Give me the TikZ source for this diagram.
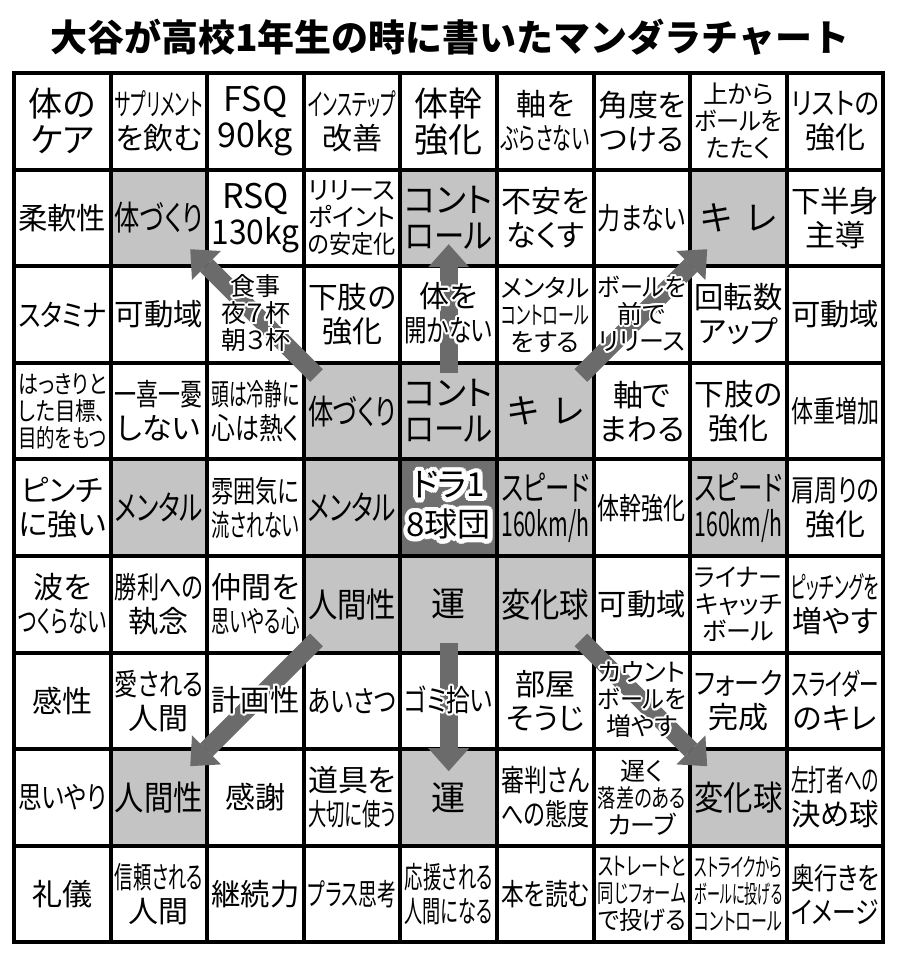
\documentclass[tikz,border=0pt]{standalone}
\usepackage{fontspec}
\setmainfont{Noto Sans CJK JP}
\newfontfamily\cellfont{Noto Sans CJK JP}[RawFeature=+palt]
\usepackage{graphicx}
\usepackage{contour}
\usetikzlibrary{arrows.meta,positioning}
\pgfdeclarelayer{cells}
\pgfdeclarelayer{arrows}
\pgfsetlayers{cells,arrows,main}
\definecolor{hlgray}{HTML}{C4C4C4}
\definecolor{ctrgray}{HTML}{6F6F6F}
\definecolor{arrowgray}{HTML}{6B6B6B}
\contournumber{16}
\contourlength{2pt}
\newsavebox\linebox
\newcommand\fitw[1]{\sbox\linebox{#1}\ifdim\wd\linebox>88pt\resizebox{88pt}{\height}{\usebox\linebox}\else\usebox\linebox\fi}
\newcommand\halo[1]{\contour{white}{#1}}
\newcommand\bighalo[1]{{\contourlength{4.5pt}\contour{white}{#1}}}
\def\lnfmt{}
\newcommand\celllines[1]{\vbox{\foreach \ln in #1 {\hbox to 90pt{\hss\lnfmt{\fitw{\ln}}\hss}}}}

\begin{document}
\begin{tikzpicture}[x=1pt,y=-1pt,
	cell/.style={draw,line width=4pt,fill=white,minimum size=96.6pt,inner sep=0pt,outer sep=0pt},
	hl/.style={fill=hlgray},
	ctr/.style={fill=ctrgray},
	celltext/.style={inner sep=0pt,font=\cellfont\fontsize{30}{34}\selectfont},
	smalltxt/.style={font=\cellfont\fontsize{25}{27}\selectfont},
	bigtxt/.style={font=\cellfont\fontsize{34}{36}\selectfont},
	lnfmt/.code={\def\lnfmt{#1}},
	halo/.style={lnfmt=\halo},
	% the grey cells
	c22/.style=hl, c25/.style=hl, c28/.style=hl,
	c44/.style=hl, c45/.style=hl, c46/.style=hl,
	c52/.style=hl, c54/.style=hl, c55/.style=ctr, c56/.style=hl, c58/.style=hl,
	c64/.style=hl, c65/.style=hl, c66/.style=hl,
	c82/.style=hl, c85/.style=hl, c88/.style=hl,
	% special texts
	t11/.style=bigtxt, t13/.style=bigtxt, t15/.style=bigtxt, t23/.style=bigtxt,
	t22/.style=bigtxt, t25/.style=bigtxt, t28/.style=bigtxt,
	t44/.style=bigtxt, t45/.style=bigtxt, t46/.style=bigtxt,
	t52/.style=bigtxt, t54/.style=bigtxt, t56/.style=bigtxt, t58/.style=bigtxt,
	t64/.style=bigtxt, t65/.style=bigtxt, t66/.style=bigtxt,
	t82/.style=bigtxt, t85/.style=bigtxt, t88/.style=bigtxt,
	t18/.style=smalltxt, t24/.style=smalltxt, t36/.style=smalltxt, t41/.style=smalltxt,
	t68/.style=smalltxt, t87/.style=smalltxt, t97/.style=smalltxt, t98/.style=smalltxt,
	t33/.style={smalltxt,halo}, t37/.style={smalltxt,halo}, t77/.style={smalltxt,halo},
	t35/.style=halo, t73/.style=halo, t75/.style=halo,
	t55/.style={font=\cellfont\fontsize{33}{40}\selectfont,lnfmt=\bighalo},
	bigarrow/.style={draw=arrowgray,line width=18pt,-{Triangle[length=23pt,width=41pt,line width=0pt]}}
	]
	\useasboundingbox (0,0) rectangle (900,959);
	
	% title
	\node[font=\bfseries\fontsize{37}{37}\selectfont] (title) at (450,37) {大谷が高校1年生の時に書いたマンダラチャート};
	
	% the grid
	\foreach \rowtxt [count=\ri] in {
		{{体の,ケア},{サプリメント,を飲む},{FSQ,90kg},{インステップ,改善},{体幹,強化},{軸を,ぶらさない},{角度を,つける},{上から,ボールを,たたく},{リストの,強化}},
		{{柔軟性},{体づくり},{RSQ,130kg},{リリース,ポイント,の安定化},{コント,ロール},{不安を,なくす},{力まない},{キ\hspace{14pt}レ},{下半身,主導}},
		{{スタミナ},{可動域},{食事,夜７杯,朝３杯},{下肢の,強化},{体を,開かない},{メンタル,コントロール,をする},{ボールを,前で,リリース},{回転数,アップ},{可動域}},
		{{はっきりと,した目標、,目的をもつ},{一喜一憂,しない},{頭は冷静に,心は熱く},{体づくり},{コント,ロール},{キ\hspace{14pt}レ},{軸で,まわる},{下肢の,強化},{体重増加}},
		{{ピンチ,に強い},{メンタル},{雰囲気に,流されない},{メンタル},{ドラ1,8球団},{スピード,160km/h},{体幹強化},{スピード,160km/h},{肩周りの,強化}},
		{{波を,つくらない},{勝利への,執念},{仲間を,思いやる心},{人間性},{運},{変化球},{可動域},{ライナー,キャッチ,ボール},{ピッチングを,増やす}},
		{{感性},{愛される,人間},{計画性},{あいさつ},{ゴミ拾い},{部屋,そうじ},{カウント,ボールを,増やす},{フォーク,完成},{スライダー,のキレ}},
		{{思いやり},{人間性},{感謝},{道具を,大切に使う},{運},{審判さん,への態度},{遅く,落差のある,カーブ},{変化球},{左打者への,決め球}},
		{{礼儀},{信頼される,人間},{継続力},{プラス思考},{応援される,人間になる},{本を読む},{ストレートと,同じフォーム,で投げる},{ストライクから,ボールに投げる,コントロール},{奥行きを,イメージ}}%
	}{
		\foreach \cel [count=\ci] in \rowtxt {
			\begin{pgfonlayer}{cells}
				\node[cell,c\ri\ci/.try] (c\ri\ci) at ({14+(\ci-0.5)*96.6},{73+(\ri-0.5)*96.6}) {};
			\end{pgfonlayer}
			\node[celltext,t\ri\ci/.try] (t\ri\ci) at (c\ri\ci) {\celllines{\cel}};
		}
	}
	
	% the arrows
	\begin{pgfonlayer}{arrows}
		\draw[bigarrow,shorten <=-18pt,shorten >=-24pt] (c44.north west) -- (c22.south east);
		\draw[bigarrow,shorten <=-10pt,shorten >=-22pt] (c45.north) -- (c25.south);
		\draw[bigarrow,shorten <=-18pt,shorten >=-24pt] (c46.north east) -- (c28.south west);
		\draw[bigarrow,shorten <=-18pt,shorten >=-24pt] (c64.south west) -- (c82.north east);
		\draw[bigarrow,shorten <=-10pt,shorten >=-22pt] (c65.south) -- (c85.north);
		\draw[bigarrow,shorten <=-18pt,shorten >=-24pt] (c66.south east) -- (c88.north west);
	\end{pgfonlayer}
\end{tikzpicture}
\end{document}
